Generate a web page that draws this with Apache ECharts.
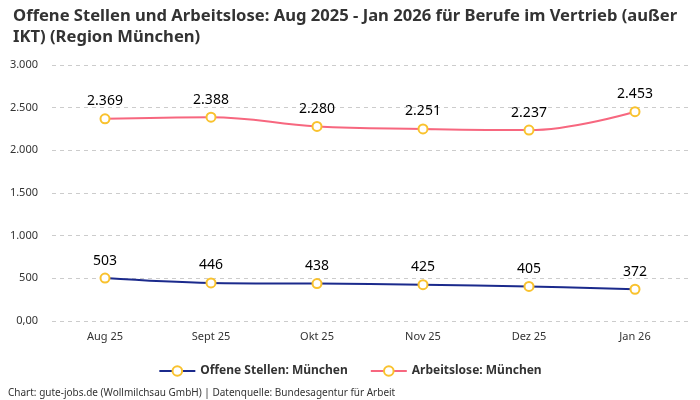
<!DOCTYPE html>
<html><head><meta charset="utf-8">
<script src="https://cdn.jsdelivr.net/npm/echarts@6/dist/echarts.min.js"></script>
<style>html,body{margin:0;padding:0;background:#fff}#c{width:700px;height:400px}</style>
</head><body><div id="c"></div>
<script>
const categories = ['Aug 25','Sept 25','Okt 25','Nov 25','Dez 25','Jan 26'];
const offeneStellen = [503, 446, 438, 425, 405, 372];
const arbeitslose = [2369, 2388, 2280, 2251, 2237, 2453];
const yTicks = [0, 500, 1000, 1500, 2000, 2500, 3000];

const fmt = v => v === 0 ? '0,00' : v.toLocaleString('de-DE');
const font = '"Noto Sans", sans-serif';
const chart = echarts.init(document.getElementById('c'), null, {renderer:'canvas'});
const marker = {color:'#fff', borderColor:'#f9c22e', borderWidth:2};
const lbl = {show:true, position:'top', distance:5, formatter:p=>fmt(p.value), fontFamily:font, fontSize:14, fontWeight:'normal', color:'#000'};
chart.setOption({
  animation:false,
  title:{text:'Offene Stellen und Arbeitslose: Aug 2025 - Jan 2026 für Berufe im Vertrieb (außer\nIKT) (Region München)',
    left:8, top:1, textStyle:{fontFamily:font, fontSize:16.6, fontWeight:'bold', color:'#333', lineHeight:21}},
  grid:{left:52, right:12, top:65, bottom:79},
  legend:{bottom:18, left:'center', itemWidth:36, itemHeight:12, itemGap:22,
    textStyle:{fontFamily:font, fontSize:12, fontWeight:'bold', color:'#333'},
    data:['Offene Stellen: München','Arbeitslose: München']},
  graphic:[{type:'text', left:8, top:388, style:{text:'Chart: gute-jobs.de (Wollmilchsau GmbH) | Datenquelle: Bundesagentur für Arbeit', fontFamily:font, fontSize:10, fill:'#333'}}],
  xAxis:{type:'category', data:categories, boundaryGap:true,
    axisLine:{show:false}, axisTick:{show:false},
    axisLabel:{fontFamily:font, fontSize:11, color:'#333', margin:10}},
  yAxis:{type:'value', min:yTicks[0], max:yTicks[yTicks.length-1], interval:500,
    axisLabel:{formatter:fmt, fontFamily:font, fontSize:11, color:'#333', margin:14},
    splitLine:{lineStyle:{type:[4,4], color:'#ccc'}}},
  series:[
    {name:'Offene Stellen: München', type:'line', data:offeneStellen, smooth:0.4,
     symbol:'circle', symbolSize:9, itemStyle:marker,
     lineStyle:{color:'#1b2a8c', width:2}, label:lbl},
    {name:'Arbeitslose: München', type:'line', data:arbeitslose, smooth:0.4,
     symbol:'circle', symbolSize:9, itemStyle:marker,
     lineStyle:{color:'#f7677f', width:2}, label:lbl}
  ]
});
</script></body></html>
